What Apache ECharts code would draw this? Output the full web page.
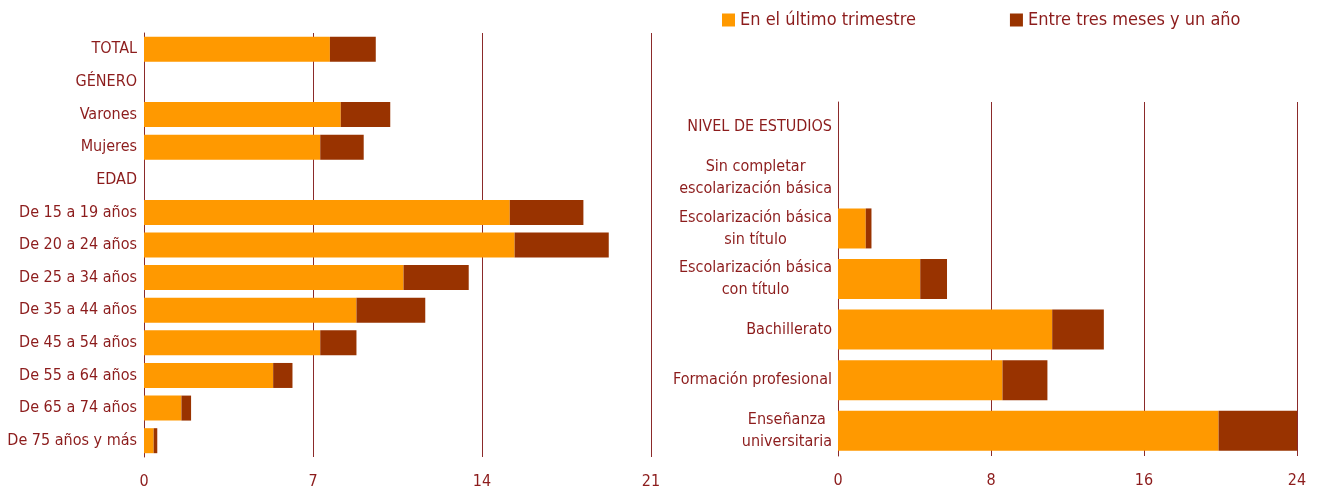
<!DOCTYPE html>
<html>
<head>
<meta charset="utf-8">
<script src="https://cdn.jsdelivr.net/npm/echarts@6/dist/echarts.min.js"></script>
<style>
html, body { margin: 0; padding: 0; background: #fff; }
#chart { width: 1319px; height: 490px; }
</style>
</head>
<body>
<div id="chart"></div>
<script>
// datos (porcentajes)
var seriesNames = ['En el último trimestre', 'Entre tres meses y un año'];

var leftCats = ['TOTAL', 'GÉNERO', 'Varones', 'Mujeres', 'EDAD',
    'De 15 a 19 años', 'De 20 a 24 años', 'De 25 a 34 años', 'De 35 a 44 años',
    'De 45 a 54 años', 'De 55 a 64 años', 'De 65 a 74 años', 'De 75 años y más'];
var leftTrimestre = [7.7, null, 8.15, 7.3, null, 15.15, 15.35, 10.75, 8.8, 7.3, 5.35, 1.55, 0.4];
var leftAnio = [1.9, null, 2.05, 1.8, null, 3.05, 3.9, 2.7, 2.85, 1.5, 0.8, 0.4, 0.15];
var leftTicks = [0, 7, 14, 21];

var rightCats = ['NIVEL DE ESTUDIOS', 'Sin completar\nescolarización básica',
    'Escolarización básica\nsin título', 'Escolarización básica\ncon título',
    'Bachillerato', 'Formación profesional', 'Enseñanza\nuniversitaria'];
var rightTrimestre = [null, null, 1.45, 4.3, 11.2, 8.6, 19.9];
var rightAnio = [null, null, 0.3, 1.4, 2.7, 2.35, 4.1];
var rightTicks = [0, 8, 16, 24];

var textColor = '#8c1c1c';
var lineColor = '#8b2a2a';
var font = 'DejaVu Sans Condensed';

var chart = echarts.init(document.getElementById('chart'));

function valueAxis(grid, ticks) {
    return {
        type: 'value',
        gridIndex: grid,
        min: ticks[0],
        max: ticks[ticks.length - 1],
        interval: ticks[1] - ticks[0],
        axisLine: { show: false },
        axisTick: { show: false },
        splitLine: { show: true, lineStyle: { color: lineColor, width: 1 } },
        axisLabel: { color: textColor, fontFamily: font, fontSize: 16, margin: 17 }
    };
}

function catAxis(grid, cats, rich) {
    var ax = {
        type: 'category',
        gridIndex: grid,
        inverse: true,
        data: cats,
        axisLine: { show: true, lineStyle: { color: lineColor, width: 1 } },
        axisTick: { show: false },
        axisLabel: { color: textColor, fontFamily: font, fontSize: 16, margin: 7, interval: 0 }
    };
    if (rich) {
        // lineas centradas entre sí, bloque alineado a la derecha
        ax.axisLabel.margin = 6;
        ax.axisLabel.lineHeight = 22;
        ax.axisLabel.formatter = function (v) {
            return v.split('\n').map(function (s) { return '{c|' + s + '}'; }).join('\n');
        };
        ax.axisLabel.rich = {
            c: { align: 'center', color: textColor, fontFamily: font, fontSize: 16, lineHeight: 22 }
        };
    }
    return ax;
}

var option = {
    animation: false,
    textStyle: { fontFamily: font },
    legend: {
        left: 717,
        top: 6,
        itemWidth: 13,
        itemHeight: 13,
        itemGap: 94,
        icon: 'rect',
        textStyle: { color: textColor, fontFamily: font, fontSize: 18 },
        data: seriesNames
    },
    grid: [
        { left: 144, top: 33, width: 507, height: 424 },
        { left: 838, top: 102, width: 459, height: 354 }
    ],
    xAxis: [valueAxis(0, leftTicks), valueAxis(1, rightTicks)],
    yAxis: [catAxis(0, leftCats, false), catAxis(1, rightCats, true)],
    series: [
        { name: seriesNames[0], type: 'bar', stack: 'a', xAxisIndex: 0, yAxisIndex: 0,
          barWidth: 25, itemStyle: { color: '#ff9900' }, data: leftTrimestre },
        { name: seriesNames[1], type: 'bar', stack: 'a', xAxisIndex: 0, yAxisIndex: 0,
          barWidth: 25, itemStyle: { color: '#993300' }, data: leftAnio },
        { name: seriesNames[0], type: 'bar', stack: 'b', xAxisIndex: 1, yAxisIndex: 1,
          barWidth: 40, itemStyle: { color: '#ff9900' }, data: rightTrimestre },
        { name: seriesNames[1], type: 'bar', stack: 'b', xAxisIndex: 1, yAxisIndex: 1,
          barWidth: 40, itemStyle: { color: '#993300' }, data: rightAnio }
    ]
};

chart.setOption(option);
</script>
</body>
</html>
